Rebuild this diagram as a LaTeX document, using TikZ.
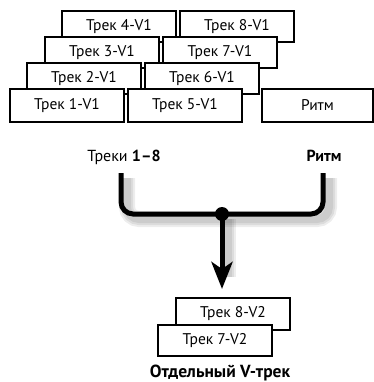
\documentclass[tikz,border=0pt]{standalone}
\usepackage{fontspec}
\setmainfont{PT Sans}
\usetikzlibrary{arrows.meta, positioning, calc}

\begin{document}
\begin{tikzpicture}[x=1pt, y=-1pt,
    every node/.style={outer sep=0pt},
    trackbox/.style={draw, fill=white, line width=2.8pt, anchor=north west,
        minimum width=114pt, minimum height=31pt, inner sep=0pt,
        font=\fontsize{15.5}{17}\selectfont},
    frontbox/.style={trackbox, minimum height=33pt},
    caption/.style={font=\fontsize{16}{18}\selectfont, inner sep=0pt},
    bus/.style={line width=5pt, rounded corners=12pt, line cap=butt},
    busshadow/.style={line width=#1, black, opacity=0.07, rounded corners=12pt}]
    \useasboundingbox (0,0) rectangle (373,382);

    % Row 4
    \node[trackbox] (trk4) at (62,11) {Трек 4-V1};
    \node[trackbox] (trk8) at (180,11) {Трек 8-V1};
    % Row 3
    \node[trackbox] (trk3) at (45,37) {Трек 3-V1};
    \node[trackbox] (trk7) at (163,37) {Трек 7-V1};
    % Row 2
    \node[trackbox] (trk2) at (27,63) {Трек 2-V1};
    \node[trackbox] (trk6) at (145,63) {Трек 6-V1};
    % Row 1
    \node[frontbox] (trk1) at (10,89) {Трек 1-V1};
    \node[frontbox] (trk5) at (128,89) {Трек 5-V1};
    \node[frontbox, minimum width=111pt] (rhythm) at (262,89) {Ритм};

    % Labels above the bus
    \node[caption] (lblTracks) at (124,157) {Треки \textbf{1–8}};
    \node[caption] (lblRhythm) at (324,156) {\textbf{Ритм}};

    % Bus and arrow
    \coordinate (busL) at (121,173);
    \coordinate (busR) at (323,173);
    \coordinate (join) at (222,214);
    \coordinate (tip) at (222,289);
    \foreach \w in {16pt, 12pt, 8pt} {
        \draw[busshadow=\w] ($(busL)+(6,5)$) |- ($(join)+(6,5)$) -| ($(busR)+(6,5)$);
        \draw[busshadow=\w] ($(join)+(6,5)$) -- ($(tip)+(6,-12)$);
    }
    \draw[bus] (busL) |- (join) -| (busR);
    \draw[line width=5pt, -{Stealth[length=27pt, width=21pt, inset=7pt]}] (join) -- (tip);
    \fill (join) circle (7pt);

    % Output tracks
    \node[trackbox, minimum height=32pt] (v8) at (176,298) {Трек 8-V2};
    \node[trackbox] (v7) at (158,325) {Трек 7-V2};
    \node[caption, font=\fontsize{17.5}{19}\selectfont] (lblOut) at (220,373) {\textbf{Отдельный V-трек}};
\end{tikzpicture}
\end{document}
